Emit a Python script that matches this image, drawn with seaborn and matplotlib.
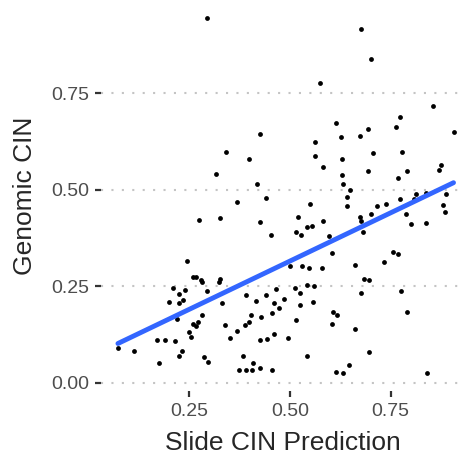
import numpy as np
import pandas as pd
import matplotlib
matplotlib.use('Agg')
import matplotlib.pyplot as plt
import seaborn as sns

# Valores
slide_cin = [
    0.294, 0.426, 0.342, 0.398, 0.316, 0.417, 0.441, 0.676, 0.701, 0.575,
    0.854, 0.772, 0.614, 0.763, 0.693, 0.906, 0.626, 0.673, 0.563, 0.778,
    0.705, 0.561, 0.629, 0.874, 0.581, 0.871, 0.694, 0.790, 0.630, 0.768,
    0.632, 0.650, 0.642, 0.814, 0.837, 0.888, 0.773, 0.808, 0.641, 0.550,
    0.519, 0.453, 0.515, 0.527, 0.542, 0.554, 0.581, 0.597, 0.605, 0.674,
    0.676, 0.681, 0.702, 0.715, 0.739, 0.788, 0.800, 0.838, 0.879, 0.884,
    0.499, 0.530, 0.548, 0.579, 0.662, 0.733, 0.757, 0.767, 0.683, 0.697,
    0.465, 0.513, 0.542, 0.560, 0.524, 0.677, 0.776, 0.460, 0.484, 0.473,
    0.524, 0.557, 0.455, 0.607, 0.617, 0.604, 0.515, 0.790, 0.460, 0.496,
    0.662, 0.542, 0.697, 0.455, 0.646, 0.614, 0.632, 0.840, 0.369, 0.273,
    0.326, 0.425, 0.244, 0.259, 0.266, 0.280, 0.282, 0.326, 0.324, 0.210,
    0.239, 0.293, 0.224, 0.235, 0.225, 0.199, 0.331, 0.391, 0.416, 0.441,
    0.220, 0.282, 0.272, 0.259, 0.267, 0.339, 0.403, 0.398, 0.388, 0.428,
    0.369, 0.350, 0.250, 0.255, 0.443, 0.426, 0.073, 0.113, 0.171, 0.190,
    0.215, 0.232, 0.225, 0.175, 0.286, 0.297, 0.383, 0.408, 0.373, 0.390,
    0.405, 0.426,
]
genomic_cin = [
    0.945, 0.645, 0.598, 0.579, 0.541, 0.515, 0.478, 0.915, 0.837, 0.776,
    0.717, 0.687, 0.672, 0.663, 0.656, 0.649, 0.637, 0.638, 0.623, 0.598,
    0.595, 0.587, 0.579, 0.565, 0.558, 0.551, 0.548, 0.548, 0.538, 0.530,
    0.514, 0.498, 0.480, 0.488, 0.490, 0.489, 0.475, 0.475, 0.458, 0.463,
    0.428, 0.383, 0.389, 0.383, 0.403, 0.406, 0.419, 0.381, 0.335, 0.430,
    0.419, 0.390, 0.437, 0.458, 0.464, 0.437, 0.410, 0.414, 0.460, 0.443,
    0.302, 0.302, 0.296, 0.297, 0.305, 0.313, 0.339, 0.334, 0.269, 0.267,
    0.243, 0.244, 0.252, 0.251, 0.231, 0.232, 0.238, 0.206, 0.216, 0.194,
    0.201, 0.209, 0.181, 0.182, 0.176, 0.152, 0.163, 0.183, 0.127, 0.115,
    0.139, 0.068, 0.079, 0.032, 0.045, 0.027, 0.024, 0.026, 0.467, 0.421,
    0.427, 0.415, 0.315, 0.273, 0.273, 0.265, 0.262, 0.268, 0.260, 0.246,
    0.241, 0.238, 0.229, 0.214, 0.207, 0.210, 0.207, 0.228, 0.212, 0.227,
    0.166, 0.176, 0.158, 0.151, 0.147, 0.150, 0.174, 0.157, 0.150, 0.169,
    0.134, 0.117, 0.130, 0.119, 0.114, 0.111, 0.090, 0.081, 0.110, 0.111,
    0.109, 0.082, 0.069, 0.050, 0.067, 0.054, 0.070, 0.050, 0.033, 0.033,
    0.033, 0.037,
]
x_ticks = [0.25, 0.50, 0.75]
y_ticks = [0.00, 0.25, 0.50, 0.75]

df = pd.DataFrame({'Slide': slide_cin, 'Genomic': genomic_cin})

sns.set_style('ticks')
plt.rcParams['font.family'] = ['Liberation Sans', 'DejaVu Sans']

fig = plt.figure(figsize=(4.64, 4.58), dpi=100)
ax = fig.add_axes([0.2177, 0.1463, 0.7823, 0.8537])

# Puntos + recta de regresión lineal sin banda de confianza
sns.regplot(data=df, x='Slide', y='Genomic', ax=ax, ci=None,
            scatter_kws={'s': 12, 'color': 'black', 'linewidths': 0, 'alpha': 1},
            line_kws={'color': '#3366FF', 'linewidth': 3.5})

ax.set_xlim(0.031, 0.932)
ax.set_ylim(-0.0215, 0.991)
ax.set_xticks(x_ticks)
ax.set_yticks(y_ticks)
ax.set_xticklabels([f'{t:.2f}' for t in x_ticks])
ax.set_yticklabels([f'{t:.2f}' for t in y_ticks])

# Rejilla punteada sólo en el eje y
ax.yaxis.grid(True, color='#C4C4C4', linestyle=(0, (1, 4)), linewidth=1.5)
ax.xaxis.grid(False)
for s in ax.spines.values():
    s.set_visible(False)

# Marcas de los ejes (cortas, gris oscuro)
ax.tick_params(axis='both', which='major', length=4.5, width=1.6, color='#333333',
               labelcolor='#4D4D4D', labelsize=14, pad=4)
ax.set_xlabel('Slide CIN Prediction', fontsize=19, labelpad=8)
ax.set_ylabel('Genomic CIN', fontsize=19, labelpad=10)

plt.savefig('out.png', dpi=100)
plt.close()
